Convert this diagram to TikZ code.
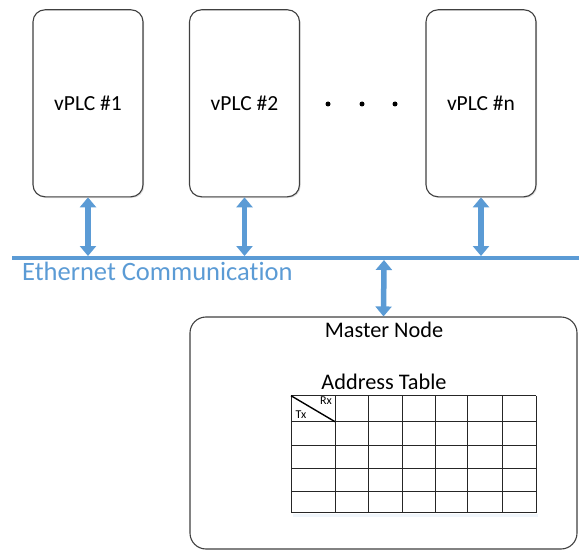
\documentclass[tikz,border=0pt]{standalone}
\usepackage{fontspec}
\setmainfont[Ligatures=NoCommon]{Carlito}
\usetikzlibrary{arrows.meta,shadows}
\definecolor{netblue}{HTML}{5B9BD5}
\definecolor{boxgray}{HTML}{404040}
\tikzset{
  plcbox/.style={draw=boxgray, line width=1.1pt, rounded corners=12pt, fill=white,
    minimum width=110pt, minimum height=187pt, font=\fontsize{21.5}{25}\selectfont,
    drop shadow={shadow xshift=1.2pt, shadow yshift=-1.2pt, opacity=0.25}},
  masterbox/.style={draw=boxgray, line width=1.1pt, rounded corners=16pt, fill=white,
    minimum width=387pt, minimum height=232pt},
  biarrow/.style={netblue, line width=5.5pt, {Triangle[width=16pt,length=10pt]}-{Triangle[width=16pt,length=10pt]}},
  busline/.style={netblue, line width=3.5pt},
  bigtext/.style={font=\fontsize{22.3}{26}\selectfont, inner sep=0pt},
  tinytext/.style={font=\fontsize{12}{14}\selectfont, inner sep=0pt},
  grid/.style={black!85, line width=1pt},
  dotmark/.style={circle, fill=black, inner sep=0pt, minimum size=5pt}
}
\begin{document}
\begin{tikzpicture}[x=1pt,y=-1pt]
\useasboundingbox (0,0) rectangle (579,551);
% vPLC boxes
\node[plcbox] (p1) at (88,103.3) {vPLC \#1};
\node[plcbox] (p2) at (244.5,103.3) {vPLC \#2};
\node[plcbox] (pn) at (481,103.3) {vPLC \#n};
% dots
\node[dotmark] (d1) at (328,104) {};
\node[dotmark] (d2) at (362,104) {};
\node[dotmark] (d3) at (395,104) {};
% Ethernet bus
\coordinate (eL) at (12,258);
\coordinate (eR) at (579,258);
\draw[busline] (eL) -- (eR);
\node[netblue, font=\fontsize{26.5}{30}\selectfont, anchor=base west, inner sep=0pt] (eth) at (22,280) {Ethernet Communication};
\coordinate (b1) at (88,256);
\coordinate (b2) at (244.5,256);
\coordinate (bn) at (481,256);
\coordinate (bm) at (384,260);
\draw[biarrow] (p1.south) -- (b1);
\draw[biarrow] (p2.south) -- (b2);
\draw[biarrow] (pn.south) -- (bn);
% Master node
\node[masterbox] (master) at (383.5,433) {};
\draw[biarrow] (bm) -- (master.north);
\node[bigtext] (mtitle) at (384,330) {Master Node};
\node[bigtext] (atitle) at (384,382) {Address Table};
% table
\fill[netblue!10] (293,514) rectangle (538,517);
\foreach \y in {395.7,421.7,445,468,491.7,512.7}
  \draw[grid] (291,\y) -- (536,\y);
\foreach \x in {291,335,368,402,435,467,502,536}
  \draw[grid] (\x,395.7) -- (\x,512.7);
\draw[black, line width=1.4pt] (291,395.7) -- (335,421.7);
\node[tinytext] (rx) at (326,400.5) {Rx};
\node[tinytext] (tx) at (301,414.5) {Tx};
\end{tikzpicture}
\end{document}
